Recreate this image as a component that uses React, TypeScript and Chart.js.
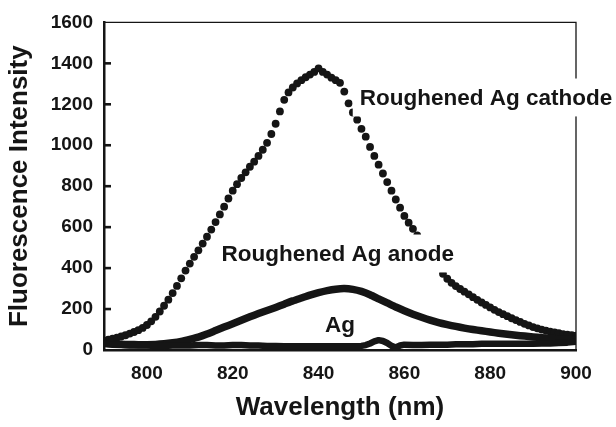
import { useEffect, useRef } from 'react';
import { Chart, registerables } from 'chart.js';

Chart.register(...registerables);

const FONT = "'Liberation Sans', Arial, Helvetica, sans-serif";
const INK = '#151515';

// Tick labels
const X_TICKS = [800, 820, 840, 860, 880, 900];
const Y_TICKS = [0, 200, 400, 600, 800, 1000, 1200, 1400, 1600];

// Roughened Ag cathode (dotted)
const CATHODE_NM = [
  790, 791, 792, 793, 794, 795, 796, 797, 798, 799,
  800, 801, 802, 803, 804, 805, 806, 807, 808, 809,
  810, 811, 812, 813, 814, 815, 816, 817, 818, 819,
  820, 821, 822, 823, 824, 825, 826, 827, 828, 829,
  830, 831, 832, 833, 834, 835, 836, 837, 838, 839,
  840, 841, 842, 843, 844, 845, 846, 847, 848, 849,
  850, 851, 852, 853, 854, 855, 856, 857, 858, 859,
  860, 861, 862, 863, 864, 865, 866, 867, 868, 869,
  870, 871, 872, 873, 874, 875, 876, 877, 878, 879,
  880, 881, 882, 883, 884, 885, 886, 887, 888, 889,
  890, 891, 892, 893, 894, 895, 896, 897, 898, 899,
  900,
];
const CATHODE_VAL = [
  45, 50, 55, 60, 66, 72, 80, 88, 97, 108,
  122, 140, 162, 188, 216, 246, 278, 313, 350, 388,
  422, 455, 487, 520, 553, 588, 625, 662, 700, 740,
  778, 810, 840, 868, 895, 920, 948, 978, 1012, 1055,
  1105, 1165, 1222, 1258, 1282, 1302, 1318, 1332, 1345, 1358,
  1375, 1358, 1345, 1330, 1318, 1305, 1262, 1205, 1160, 1125,
  1080, 1042, 992, 948, 905, 862, 820, 778, 735, 695,
  655, 622, 592, 560, 528, 494, 462, 430, 400, 372,
  348, 328, 312, 298, 285, 272, 258, 245, 232, 220,
  208, 196, 185, 175, 165, 155, 146, 137, 128, 120,
  112, 106, 100, 95, 90, 86, 82, 78, 75, 72,
  70,
];

// Roughened Ag anode (thick line)
const ANODE_NM = [
  790, 792, 794, 796, 798, 800, 802, 804, 806, 808,
  810, 812, 814, 816, 818, 820, 822, 824, 826, 828,
  830, 832, 834, 836, 838, 840, 842, 844, 846, 848,
  850, 852, 854, 856, 858, 860, 862, 864, 866, 868,
  870, 872, 874, 876, 878, 880, 882, 884, 886, 888,
  890, 892, 894, 896, 898, 900,
];
const ANODE_VAL = [
  32, 30, 28, 27, 26, 26, 27, 30, 35, 42,
  52, 63, 78, 95, 112, 128, 145, 162, 178, 193,
  208, 224, 240, 254, 268, 280, 290, 297, 300, 296,
  286, 270, 250, 230, 210, 192, 175, 160, 146, 134,
  124, 115, 107, 100, 94, 88, 82, 77, 72, 68,
  64, 60, 57, 54, 52, 50,
];

// Ag (thick line)
const AG_NM = [
  790, 792, 794, 796, 798, 800, 802, 804, 806, 808,
  810, 812, 814, 816, 818, 820, 822, 824, 826, 828,
  830, 832, 834, 836, 838, 840, 842, 844, 846, 848,
  850, 851, 852, 853, 854, 855, 856, 857, 858, 859,
  860, 862, 864, 866, 868, 870, 872, 874, 876, 878,
  880, 882, 884, 886, 888, 890, 892, 894, 896, 898,
  900,
];
const AG_VAL = [
  32, 26, 24, 22, 22, 22, 20, 20, 22, 22,
  22, 24, 24, 22, 22, 24, 24, 22, 22, 20,
  20, 18, 18, 18, 18, 18, 18, 18, 18, 18,
  20, 24, 32, 42, 48, 44, 34, 20, 12, 22,
  26, 24, 24, 26, 26, 26, 28, 28, 28, 30,
  30, 30, 30, 30, 30, 30, 32, 32, 34, 36,
  40,
];

// Text annotations (data coordinates of left end / baseline)
const LABEL_TEXTS = ['Roughened Ag cathode', 'Roughened Ag anode', 'Ag'];
const LABEL_X = [849.6, 817.4, 841.5];
const LABEL_Y = [1198, 436, 87];
const LABEL_BOXED = [true, true, false];

const toPoints = (xs: number[], ys: number[]) => xs.map((x, i) => ({ x, y: ys[i] }));

const decorPlugin = {
  id: 'decor',
  beforeDatasetsDraw(chart: any) {
    const { ctx, chartArea: a, scales } = chart;
    ctx.save();
    ctx.strokeStyle = INK;
    ctx.lineWidth = 1.3;
    ctx.beginPath();
    ctx.moveTo(a.left, a.top);
    ctx.lineTo(a.right, a.top);
    ctx.lineTo(a.right, a.bottom);
    ctx.stroke();
    ctx.lineWidth = 2.6;
    for (const v of Y_TICKS) {
      if (v === 0 || v === 1600) continue;
      const y = scales.y.getPixelForValue(v);
      ctx.beginPath();
      ctx.moveTo(a.left, y);
      ctx.lineTo(a.left + 7, y);
      ctx.stroke();
    }
    ctx.restore();
  },
  afterDatasetsDraw(chart: any) {
    const { ctx, scales } = chart;
    const fs = 22.5;
    ctx.save();
    ctx.font = `bold ${fs}px ${FONT}`;
    ctx.textBaseline = 'alphabetic';
    ctx.textAlign = 'left';
    LABEL_TEXTS.forEach((t, i) => {
      const x = scales.x.getPixelForValue(LABEL_X[i]);
      const y = scales.y.getPixelForValue(LABEL_Y[i]);
      const w = ctx.measureText(t).width;
      if (LABEL_BOXED[i]) {
        ctx.fillStyle = '#ffffff';
        const top = y - 0.72 * fs - 10;
        const bottom = y + 0.21 * fs + 7;
        ctx.fillRect(x - 7, top, w + 14, bottom - top);
      }
      ctx.fillStyle = INK;
      ctx.fillText(t, x, y);
    });
    ctx.restore();
  },
};

export default function App() {
  const ref = useRef<HTMLCanvasElement | null>(null);

  useEffect(() => {
    document.body.style.margin = '0';
    const canvas = ref.current;
    if (!canvas) return;
    const tickFont = { family: FONT, size: 19, weight: 'bold' as const };
    const titleFont = { family: FONT, size: 26, weight: 'bold' as const };
    const chart = new Chart(canvas, {
      type: 'scatter',
      data: {
        datasets: [
          {
            label: 'Ag',
            data: toPoints(AG_NM, AG_VAL),
            showLine: true,
            borderColor: INK,
            borderWidth: 6.5,
            pointRadius: 0,
            borderJoinStyle: 'round',
            borderCapStyle: 'round',
            tension: 0,
          },
          {
            label: 'Roughened Ag anode',
            data: toPoints(ANODE_NM, ANODE_VAL),
            showLine: true,
            borderColor: INK,
            borderWidth: 7.5,
            pointRadius: 0,
            borderJoinStyle: 'round',
            borderCapStyle: 'round',
            tension: 0.2,
          },
          {
            label: 'Roughened Ag cathode',
            data: toPoints(CATHODE_NM, CATHODE_VAL),
            showLine: false,
            pointRadius: 3.9,
            pointBorderWidth: 0,
            pointBackgroundColor: INK,
            borderColor: INK,
          },
        ],
      },
      options: {
        responsive: false,
        animation: false,
        devicePixelRatio: 1,
        layout: { padding: { top: 20, right: 40, left: 0, bottom: 0 } },
        plugins: { legend: { display: false }, tooltip: { enabled: false } },
        scales: {
          x: {
            type: 'linear',
            min: 790,
            max: 900,
            afterBuildTicks: (s: any) => {
              s.ticks = X_TICKS.map((v) => ({ value: v }));
            },
            afterFit: (s: any) => {
              s.height = 77;
            },
            grid: { display: false, drawTicks: false },
            border: { display: true, color: INK, width: 2.5 },
            ticks: {
              color: INK,
              font: tickFont,
              padding: 12,
              maxRotation: 0,
              autoSkip: false,
              callback: (v: any) => String(v),
            },
            title: {
              display: true,
              text: 'Wavelength (nm)',
              color: INK,
              font: titleFont,
              padding: { top: 0, bottom: 4 },
            },
          },
          y: {
            type: 'linear',
            min: 0,
            max: 1600,
            afterBuildTicks: (s: any) => {
              s.ticks = Y_TICKS.map((v) => ({ value: v }));
            },
            afterFit: (s: any) => {
              s.width = 104;
            },
            grid: { display: false, drawTicks: false },
            border: { display: true, color: INK, width: 2.5 },
            ticks: {
              color: INK,
              font: tickFont,
              padding: 11,
              autoSkip: false,
              callback: (v: any) => String(v),
            },
            title: {
              display: true,
              text: 'Fluorescence Intensity',
              color: INK,
              font: titleFont,
              padding: { top: 4, bottom: 0 },
            },
          },
        },
      },
      plugins: [decorPlugin],
    });
    return () => chart.destroy();
  }, []);

  return (
    <div style={{ width: 616, height: 427, background: '#fff' }}>
      <canvas ref={ref} width={616} height={427} style={{ display: 'block' }} />
    </div>
  );
}
